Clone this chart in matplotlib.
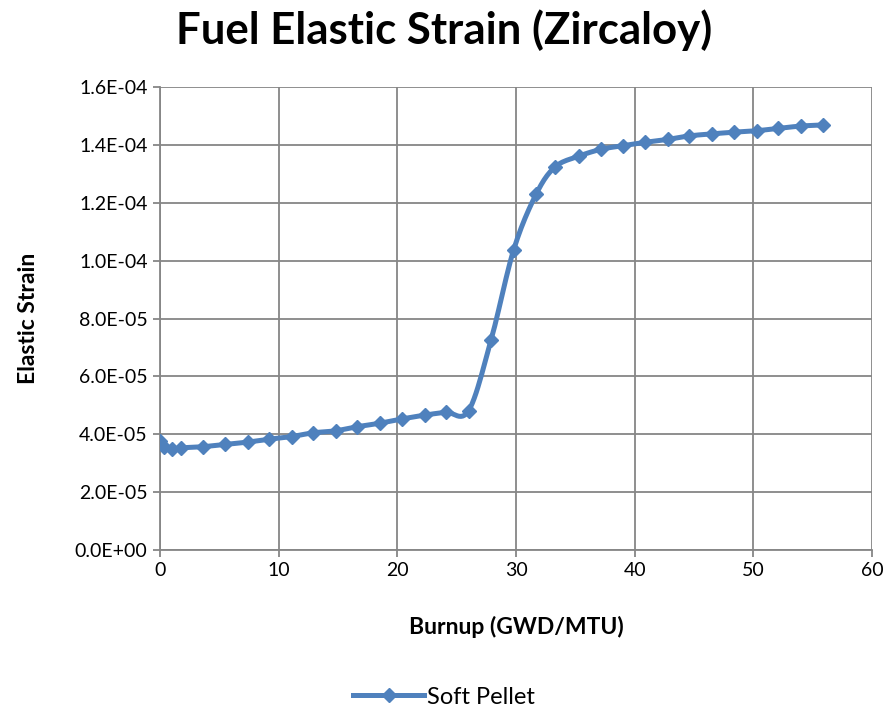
import numpy as np
import matplotlib
matplotlib.use("Agg")
import matplotlib.pyplot as plt
from matplotlib.ticker import FuncFormatter

plt.rcParams["font.family"] = ["Lato", "DejaVu Sans"]

# burnup (GWD/MTU) and elastic strain
burnup = [0.0, 0.3, 1.0, 1.8, 3.6, 5.5, 7.4, 9.2, 11.1, 12.9, 14.8, 16.6,
          18.5, 20.4, 22.3, 24.1, 26.0, 27.9, 29.8, 31.7, 33.3, 35.3, 37.2,
          39.0, 40.9, 42.8, 44.6, 46.5, 48.4, 50.3, 52.1, 54.0, 55.9]
strain = [3.78e-5, 3.57e-5, 3.48e-5, 3.53e-5, 3.57e-5, 3.65e-5, 3.73e-5,
          3.83e-5, 3.92e-5, 4.05e-5, 4.12e-5, 4.26e-5, 4.38e-5, 4.53e-5,
          4.66e-5, 4.76e-5, 4.81e-5, 7.26e-5, 1.037e-4, 1.230e-4, 1.324e-4,
          1.361e-4, 1.385e-4, 1.397e-4, 1.409e-4, 1.419e-4, 1.431e-4,
          1.438e-4, 1.444e-4, 1.449e-4, 1.457e-4, 1.465e-4, 1.469e-4]

COLOR = "#4F81BD"
GRID = "#868686"


def smooth(x, y, n=12):
    # Catmull-Rom style smoothing, similar to Excel's smoothed line
    x = np.asarray(x, float)
    y = np.asarray(y, float)
    px = np.concatenate([[2 * x[0] - x[1]], x, [2 * x[-1] - x[-2]]])
    py = np.concatenate([[2 * y[0] - y[1]], y, [2 * y[-1] - y[-2]]])
    xs, ys = [], []
    t = np.linspace(0, 1, n, endpoint=False)
    for i in range(1, len(px) - 2):
        p0, p1, p2, p3 = (np.array([px[j], py[j]]) for j in range(i - 1, i + 3))
        m1 = (p2 - p0) / 6.0
        m2 = (p3 - p1) / 6.0
        c1, c2 = p1 + m1, p2 - m2
        pts = ((1 - t) ** 3)[:, None] * p1 + (3 * (1 - t) ** 2 * t)[:, None] * c1 \
            + (3 * (1 - t) * t ** 2)[:, None] * c2 + (t ** 3)[:, None] * p2
        xs.extend(pts[:, 0])
        ys.extend(pts[:, 1])
    xs.append(x[-1])
    ys.append(y[-1])
    return np.array(xs), np.array(ys)


fig = plt.figure(figsize=(8.88, 7.10), dpi=100)
ax = fig.add_axes([160 / 888, 1 - 550 / 710, 712 / 888, 463 / 710])

sx, sy = smooth(burnup, strain)
ax.plot(sx, sy, color=COLOR, lw=3.6, solid_capstyle="round", zorder=3)
ax.plot(burnup, strain, ls="none", marker="D", ms=7.5, color=COLOR, zorder=4)
# legend handle
ax.plot([], [], color=COLOR, lw=3.6, marker="D", ms=7.5, label="Soft Pellet")

ax.set_xlim(0, 60)
ax.set_ylim(0, 1.6e-4)
ax.set_xticks(np.arange(0, 61, 10))
ax.set_yticks(np.arange(0, 1.61e-4, 2e-5))
ax.yaxis.set_major_formatter(FuncFormatter(lambda v, p: "%.1E" % v))
ax.grid(True, color=GRID, lw=1.3)
ax.set_axisbelow(True)
for s in ["top", "right"]:
    ax.spines[s].set_visible(False)
for s in ["left", "bottom"]:
    ax.spines[s].set_color(GRID)
    ax.spines[s].set_linewidth(1.3)
ax.tick_params(axis="both", colors=GRID, length=5, width=1.3, labelsize=14,
               labelcolor="black", pad=4)

ax.set_xlabel("Burnup (GWD/MTU)", fontsize=16.5, fontweight="bold", labelpad=26)
ax.set_ylabel("Elastic Strain", fontsize=16.5, fontweight="bold", labelpad=26)
fig.text(0.5, 1 - 30 / 710, "Fuel Elastic Strain (Zircaloy)", ha="center",
         va="center", fontsize=31.5, fontweight="bold")

fig.legend(loc="center", bbox_to_anchor=(0.5, 1 - 697 / 710), frameon=False,
           fontsize=17, handlelength=3.0, handletextpad=0.1)

fig.savefig("out.png", dpi=100)
